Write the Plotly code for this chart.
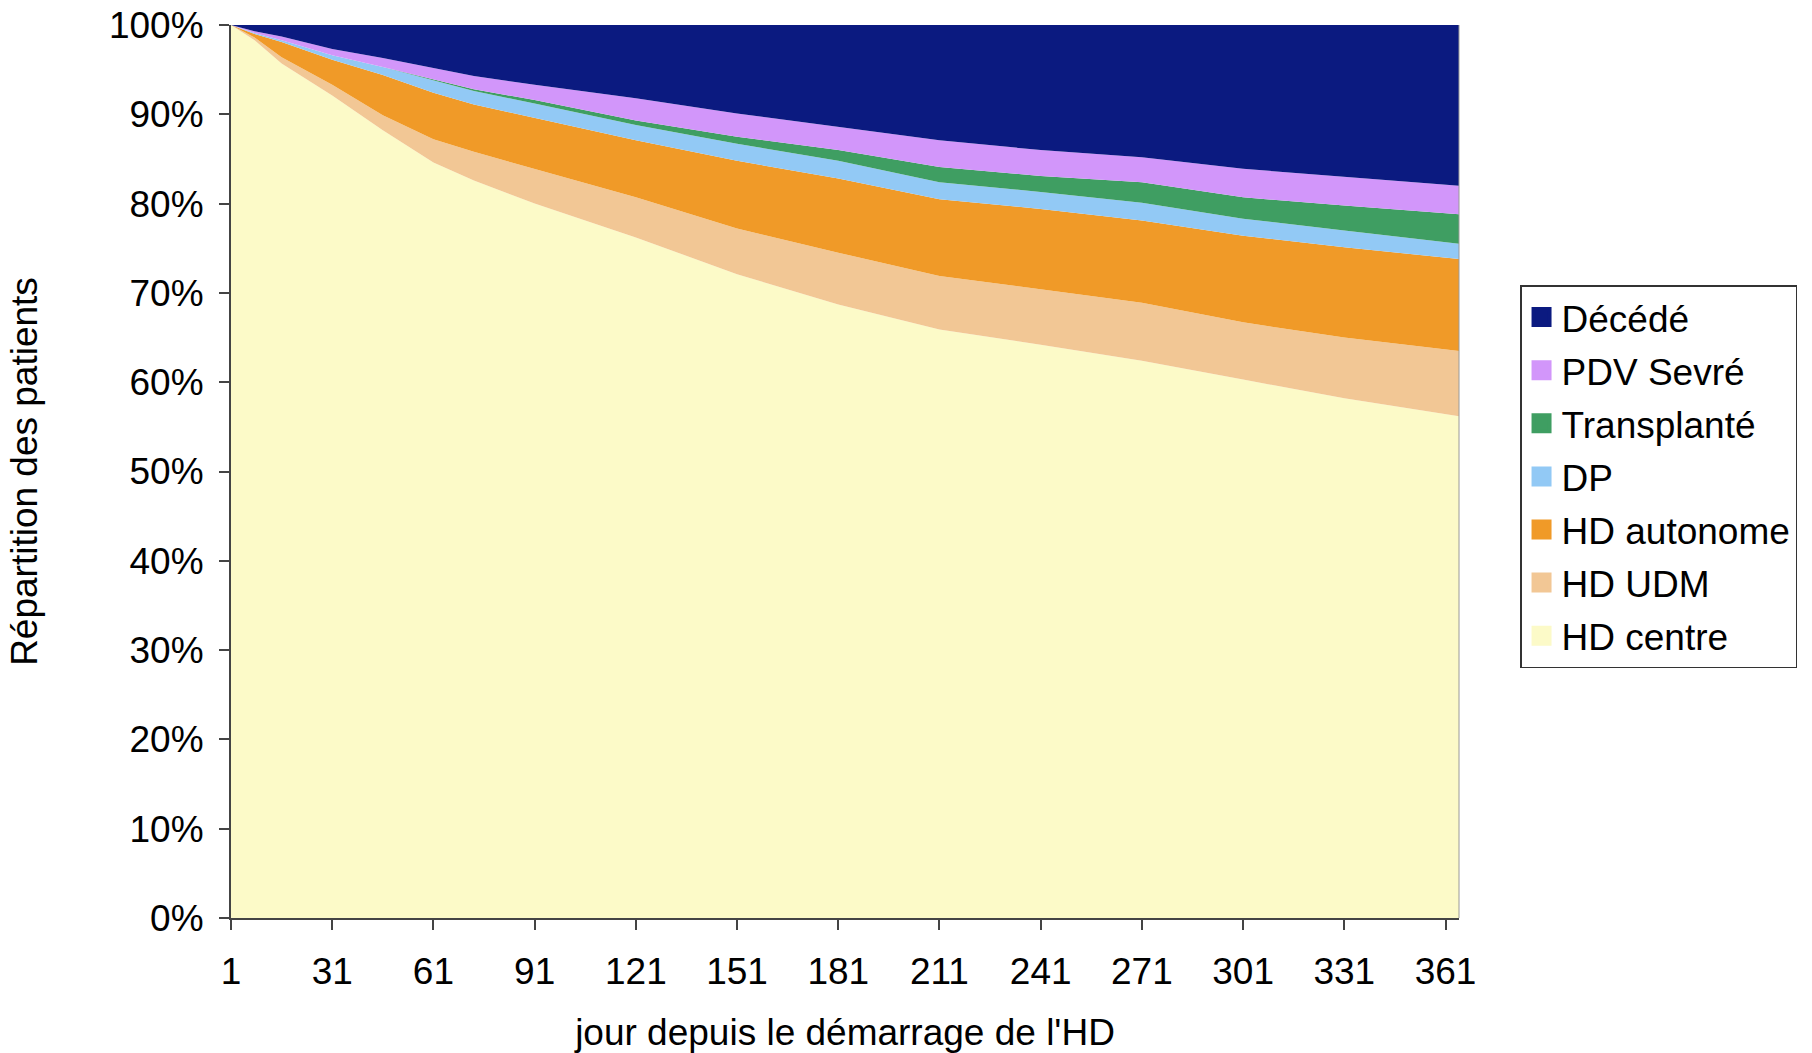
import plotly.graph_objects as go

days = [1, 8, 16, 31, 46, 61, 73, 91, 121, 151, 181, 211, 241, 271, 301, 331, 365]

hd_centre   = [100.0, 98.3, 95.7, 92.1, 88.2, 84.6, 82.6, 80.0, 76.2, 72.1, 68.7, 65.9, 64.2, 62.4, 60.3, 58.2, 56.2]
hd_udm      = [0.0, 0.3, 0.7, 1.2, 1.7, 2.6, 3.2, 3.9, 4.5, 5.1, 5.8, 6.0, 6.2, 6.5, 6.4, 6.8, 7.3]
hd_autonome = [0.0, 0.4, 1.7, 2.8, 4.5, 5.2, 5.3, 5.7, 6.4, 7.6, 8.3, 8.6, 9.0, 9.2, 9.7, 10.1, 10.3]
dp          = [0.0, 0.1, 0.2, 0.5, 0.9, 1.4, 1.5, 1.6, 1.7, 1.9, 2.0, 1.9, 1.9, 2.0, 1.9, 1.9, 1.7]
transplante = [0.0, 0.0, 0.0, 0.0, 0.0, 0.1, 0.2, 0.4, 0.5, 0.8, 1.2, 1.7, 1.8, 2.3, 2.4, 2.8, 3.3]
pdv_sevre   = [0.0, 0.2, 0.4, 0.7, 1.0, 1.3, 1.5, 1.7, 2.5, 2.6, 2.6, 3.0, 2.9, 2.8, 3.2, 3.2, 3.2]
decede      = [0.0, 0.7, 1.3, 2.7, 3.7, 4.8, 5.7, 6.7, 8.2, 9.9, 11.4, 12.9, 14.0, 14.8, 16.1, 17.0, 18.0]

x_ticks = [1, 31, 61, 91, 121, 151, 181, 211, 241, 271, 301, 331, 361]
y_ticks = [0, 10, 20, 30, 40, 50, 60, 70, 80, 90, 100]
y_labels = [f"{v}%" for v in y_ticks]

series = [
    ("HD centre", hd_centre, "#FCFAC8"),
    ("HD UDM", hd_udm, "#F2C795"),
    ("HD autonome", hd_autonome, "#F09A28"),
    ("DP", dp, "#92C9F5"),
    ("Transplanté", transplante, "#3F9E62"),
    ("PDV Sevré", pdv_sevre, "#D296FA"),
    ("Décédé", decede, "#0B1A80"),
]

FONT = "Liberation Sans, Arial, sans-serif"
FS = 37

fig = go.Figure()
for name, vals, col in series:
    fig.add_trace(go.Scatter(
        x=days, y=vals, name=name, mode="lines", stackgroup="one",
        line=dict(width=0, color=col), fillcolor=col, showlegend=False,
        hoverinfo="x+y+name",
    ))

# legend entries (square symbols), top to bottom
for i, (name, vals, col) in enumerate(reversed(series)):
    fig.add_trace(go.Scatter(
        x=[None], y=[None], name=name, mode="markers",
        marker=dict(symbol="square", size=16, color=col,
                    line=dict(color=col, width=4)),
        legendgroup=f"g{i}", showlegend=True,
    ))

fig.add_shape(type="line", xref="paper", yref="paper", x0=1, x1=1, y0=0, y1=1,
              line=dict(color="#9a9a9a", width=1))

fig.update_layout(
    width=1812, height=1053,
    margin=dict(l=231, r=353, t=25, b=135, autoexpand=False),
    paper_bgcolor="white", plot_bgcolor="white",
    font=dict(family=FONT, size=FS, color="black"),
    showlegend=True,
    legend=dict(
        x=1.0497, y=0.7088, xanchor="left", yanchor="top",
        bordercolor="#333333", borderwidth=1.5,
        font=dict(family=FONT, size=FS, color="black"),
        traceorder="grouped", tracegroupgap=2,
        itemwidth=30,
    ),
    xaxis=dict(
        range=[1, 365], tickmode="array", tickvals=x_ticks,
        showgrid=False, zeroline=False, automargin=False,
        showline=True, linecolor="#444444", linewidth=2,
        ticks="outside", ticklen=10, tickwidth=2, tickcolor="#444444",
        ticklabelstandoff=10,
        tickfont=dict(family=FONT, size=FS, color="black"),
        title=dict(text="jour depuis le démarrage de l'HD",
                   font=dict(family=FONT, size=FS, color="black"), standoff=30),
    ),
    yaxis=dict(
        range=[0, 100], tickmode="array", tickvals=y_ticks, ticktext=y_labels,
        showgrid=False, zeroline=False, automargin=False,
        showline=True, linecolor="#444444", linewidth=2,
        ticks="outside", ticklen=10, tickwidth=2, tickcolor="#444444",
        ticklabelstandoff=8,
        tickfont=dict(family=FONT, size=FS, color="black"),
        title=dict(text="Répartition des patients",
                   font=dict(family=FONT, size=FS, color="black"), standoff=60),
    ),
)

fig.write_html("out.html", config={"displayModeBar": False},
               post_script="document.body.style.margin='0';")
